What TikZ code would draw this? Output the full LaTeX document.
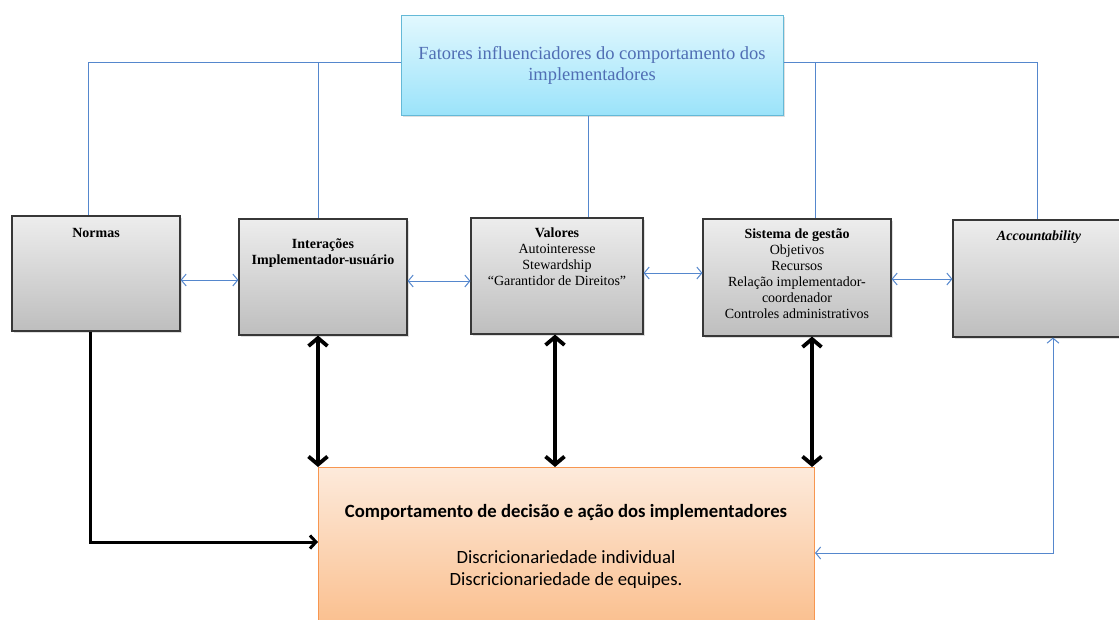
\documentclass[tikz,border=0pt]{standalone}
\usepackage{fontspec}
\setmainfont{Liberation Serif}
\newfontfamily\calib{Carlito}
\usetikzlibrary{arrows.meta,shadows}
\definecolor{gtop}{RGB}{237,237,237}
\definecolor{gbot}{RGB}{190,190,190}
\definecolor{gline}{RGB}{55,55,55}
\definecolor{ctop}{RGB}{226,248,254}
\definecolor{cbot}{RGB}{155,227,250}
\definecolor{cline}{RGB}{100,185,215}
\definecolor{otop}{RGB}{253,234,219}
\definecolor{obot}{RGB}{250,190,140}
\definecolor{oline}{RGB}{247,150,80}
\definecolor{bluel}{RGB}{85,135,205}
\definecolor{ttext}{RGB}{80,110,180}
\begin{document}
\begin{tikzpicture}[x=1pt,y=-1pt,
  graybox/.style={draw=gline, line width=1.1pt, top color=gtop, bottom color=gbot,
    drop shadow={opacity=0.25,shadow xshift=2pt,shadow yshift=-2pt}, inner sep=0pt},
  boxtext/.style={anchor=north, align=center, inner sep=0pt,
    font=\fontsize{14}{16}\selectfont},
  blueline/.style={draw=bluel, line width=1pt},
  bluearrow/.style={blueline, {Straight Barb[length=5pt,width=12pt]}-{Straight Barb[length=5pt,width=12pt]}},
  blkarrow/.style={line width=3.8pt, {Straight Barb[length=8pt,width=19pt]}-{Straight Barb[length=8pt,width=19pt]}},
  blkline/.style={line width=3pt, -{Straight Barb[length=6pt,width=13pt]}}
]
\useasboundingbox (0,0) rectangle (1119,619);

% top box
\node[draw=cline, line width=1pt, top color=ctop, bottom color=cbot,
  drop shadow={opacity=0.25,shadow xshift=2pt,shadow yshift=-2pt},
  minimum width=382pt, minimum height=100pt, inner sep=0pt] (top) at (592,65) {};
\node[anchor=north, align=center, inner sep=0pt, text=ttext,
  font=\fontsize{18.5}{21}\selectfont] (toptxt) at (592,46)
  {Fatores influenciadores do comportamento dos\\implementadores};

% grey boxes
\node[graybox, minimum width=168pt, minimum height=115pt] (normas) at (96,273.5) {};
\node[graybox, minimum width=168pt, minimum height=116pt] (inter) at (323,277) {};
\node[graybox, minimum width=172pt, minimum height=116pt] (valores) at (557,276) {};
\node[graybox, minimum width=188pt, minimum height=117pt] (sistema) at (797,277.5) {};
\node[graybox, minimum width=172pt, minimum height=117pt] (acc) at (1039,278.5) {};

\node[boxtext] (tnormas) at (96,228) {\textbf{Normas}};
\node[boxtext] (tinter) at (323,239) {\textbf{Interações}\\\textbf{Implementador-usuário}};
\node[boxtext] (tvalores) at (557,228) {\textbf{Valores}\\Autointeresse\\Stewardship\\“Garantidor de Direitos”};
\node[boxtext] (tsistema) at (797,229) {\textbf{Sistema de gestão}\\Objetivos\\Recursos\\Relação implementador-\\coordenador\\Controles administrativos};
\node[boxtext] (tacc) at (1039,231) {\textbf{\textit{Accountability}}};

% orange box
\node[draw=oline, line width=1pt, top color=otop, bottom color=obot,
  minimum width=496pt, minimum height=163pt, inner sep=0pt, anchor=north west] (comp) at (318,467) {};
\node[anchor=north, align=center, inner sep=0pt, font=\calib\fontsize{18.7}{22}\selectfont] (tcomp) at (566,504)
  {\textbf{Comportamento de decisão e ação dos implementadores}\\[24pt]
   Discricionariedade individual\\Discricionariedade de equipes.};

% blue connectors from top box
\coordinate (jl) at (88,62);
\coordinate (ji) at (318,62);
\coordinate (jr) at (1037,62);
\coordinate (js) at (815,62);
\coordinate (jv) at (588,0);
\draw[blueline] (top.west |- jl) -- (jl) -- (jl |- normas.north);
\draw[blueline] (ji) -- (ji |- inter.north);
\draw[blueline] (top.south -| jv) -- (valores.north -| jv);
\draw[blueline] (top.east |- jr) -- (jr) -- (jr |- acc.north);
\draw[blueline] (js) -- (js |- sistema.north);

% horizontal blue double arrows
\coordinate (h1) at (0,280);
\coordinate (h2) at (0,281);
\coordinate (h3) at (0,273);
\coordinate (h4) at (0,279);
\draw[bluearrow] (normas.east |- h1) -- (inter.west |- h1);
\draw[bluearrow] (inter.east |- h2) -- (valores.west |- h2);
\draw[bluearrow] (valores.east |- h3) -- (sistema.west |- h3);
\draw[bluearrow] (sistema.east |- h4) -- (acc.west |- h4);

% black vertical double arrows
\coordinate (v1) at (318,0);
\coordinate (v2) at (555,0);
\coordinate (v3) at (812,0);
\draw[blkarrow] (inter.south -| v1) -- (comp.north -| v1);
\draw[blkarrow] (valores.south -| v2) -- (comp.north -| v2);
\draw[blkarrow] (sistema.south -| v3) -- (comp.north -| v3);

% Normas to comportamento
\coordinate (nb) at (90,542);
\draw[blkline] (normas.south -| nb) -- (nb) -- (comp.west |- nb);

% Accountability feedback
\coordinate (ab) at (1053,553);
\draw[bluearrow] (comp.east |- ab) -- (ab) -- (acc.south -| ab);
\end{tikzpicture}
\end{document}
